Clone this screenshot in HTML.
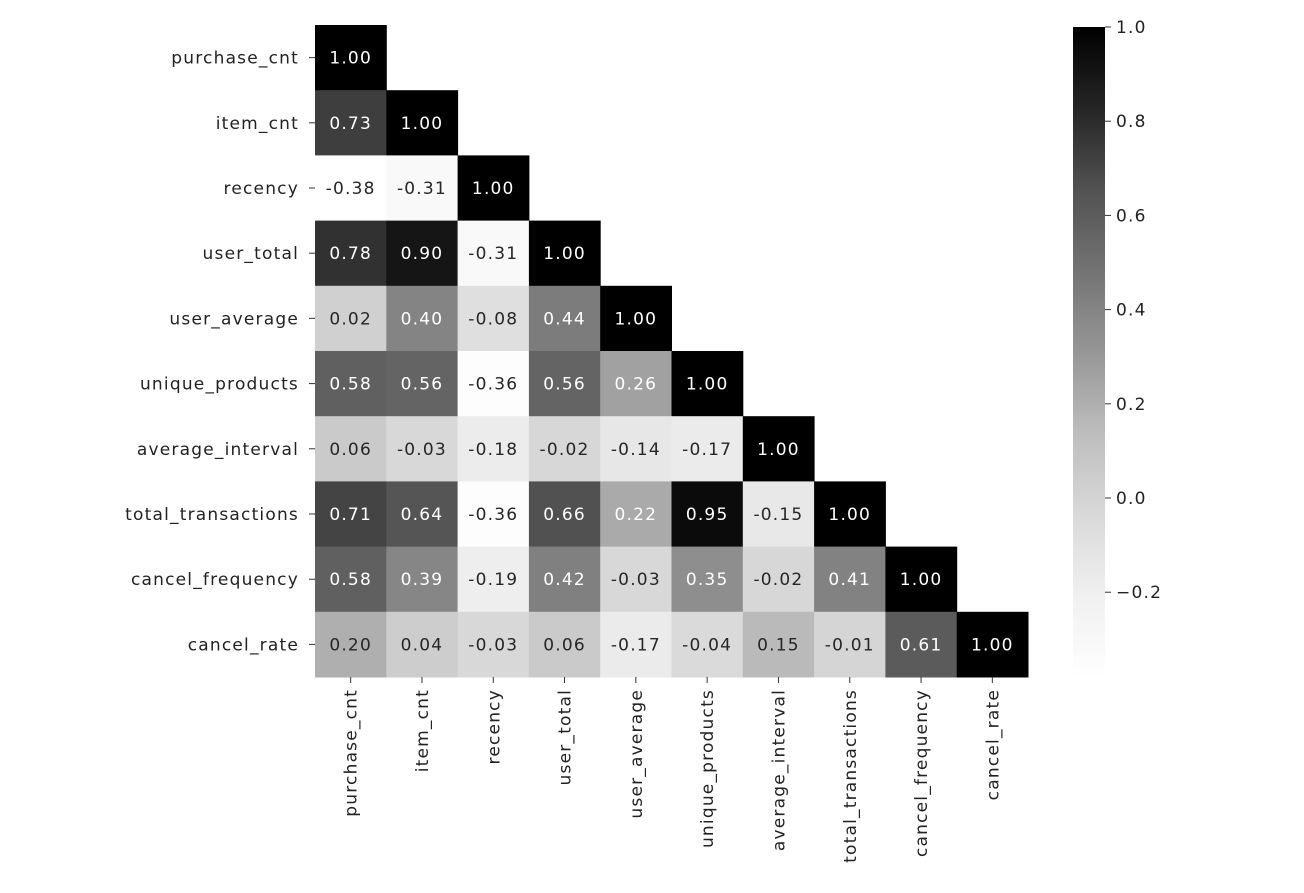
<!DOCTYPE html>
<html><head><meta charset="utf-8"><style>
body{margin:0;background:#fff;}
svg text{font-family:"DejaVu Sans","Liberation Sans",sans-serif;font-size:17px;letter-spacing:1.2px;fill:#222;}
</style></head><body>
<svg id="chart" width="1304" height="888" xmlns="http://www.w3.org/2000/svg">
<defs><linearGradient id="cg" x1="0" y1="1" x2="0" y2="0">
<stop offset="0" stop-color="#ffffff"/><stop offset="0.125" stop-color="#f0f0f0"/><stop offset="0.25" stop-color="#d9d9d9"/><stop offset="0.375" stop-color="#bdbdbd"/><stop offset="0.5" stop-color="#969696"/><stop offset="0.625" stop-color="#737373"/><stop offset="0.75" stop-color="#525252"/><stop offset="0.875" stop-color="#252525"/><stop offset="1" stop-color="#000000"/>
</linearGradient></defs>
<g id="cells"></g><g id="ylab"></g><g id="xlab"></g>
<rect x="1073" y="27" width="32" height="650" fill="url(#cg)"/>
<g id="cbt"></g>
</svg>
<script>
const labels=["purchase_cnt","item_cnt","recency","user_total","user_average","unique_products","average_interval","total_transactions","cancel_frequency","cancel_rate"];
const values=[
[1.00],
[0.73,1.00],
[-0.38,-0.31,1.00],
[0.78,0.90,-0.31,1.00],
[0.02,0.40,-0.08,0.44,1.00],
[0.58,0.56,-0.36,0.56,0.26,1.00],
[0.06,-0.03,-0.18,-0.02,-0.14,-0.17,1.00],
[0.71,0.64,-0.36,0.66,0.22,0.95,-0.15,1.00],
[0.58,0.39,-0.19,0.42,-0.03,0.35,-0.02,0.41,1.00],
[0.20,0.04,-0.03,0.06,-0.17,-0.04,0.15,-0.01,0.61,1.00]];
const cbTicks=[1.0,0.8,0.6,0.4,0.2,0.0,-0.2];
const vmin=-0.38,vmax=1.0;
const X0=315,Y0=25,CW=71.3,CH=65.2;
const stops=[255,240,217,189,150,115,82,37,0];
function grey(v){let t=(v-vmin)/(vmax-vmin);t=Math.max(0,Math.min(1,t))*8;const i=Math.min(7,Math.floor(t));return Math.round(stops[i]+(stops[i+1]-stops[i])*(t-i));}
const NS="http://www.w3.org/2000/svg";
function mk(tag,a,p){const e=document.createElementNS(NS,tag);for(const k in a)e.setAttribute(k,a[k]);p.appendChild(e);return e;}
const cells=document.getElementById('cells');
values.forEach((row,i)=>row.forEach((v,j)=>{
 const g=grey(v);
 const r=mk('rect',{x:X0+j*CW,y:Y0+i*CH,width:CW+0.5,height:CH+0.5,fill:`rgb(${g},${g},${g})`},cells);
 
 
 const t=mk('text',{x:X0+j*CW+CW/2,y:Y0+i*CH+CH/2+6,'text-anchor':'middle'},cells);
 
 
 t.style.fill=g<172?'#fff':'#262626';
 t.textContent=v.toFixed(2);
}));
const yl=document.getElementById('ylab'),xl=document.getElementById('xlab');
labels.forEach((l,i)=>{
 const cy=Y0+i*CH+CH/2;
 mk('line',{x1:X0-6,x2:X0,y1:cy,y2:cy,stroke:'#333'},yl);
 const t=mk('text',{x:X0-16,y:cy+6,'text-anchor':'end'},yl);
 
 
 t.textContent=l;
 const cx=X0+i*CW+CW/2,by=Y0+10*CH;
 mk('line',{x1:cx,x2:cx,y1:by,y2:by+6,stroke:'#333'},xl);
 const u=mk('text',{x:0,y:0,'text-anchor':'end',transform:`translate(${cx+6},${by+12}) rotate(-90)`},xl);
 
 
 u.textContent=l;
});
const cb=document.getElementById('cbt');
cbTicks.forEach(v=>{
 const y=27+(vmax-v)/(vmax-vmin)*650;
 mk('line',{x1:1105,x2:1111,y1:y,y2:y,stroke:'#333'},cb);
 const t=mk('text',{x:1116,y:y+6},cb);
 
 
 t.textContent=v<0?'\u2212'+Math.abs(v).toFixed(1):v.toFixed(1);
});
</script>
</body></html>
